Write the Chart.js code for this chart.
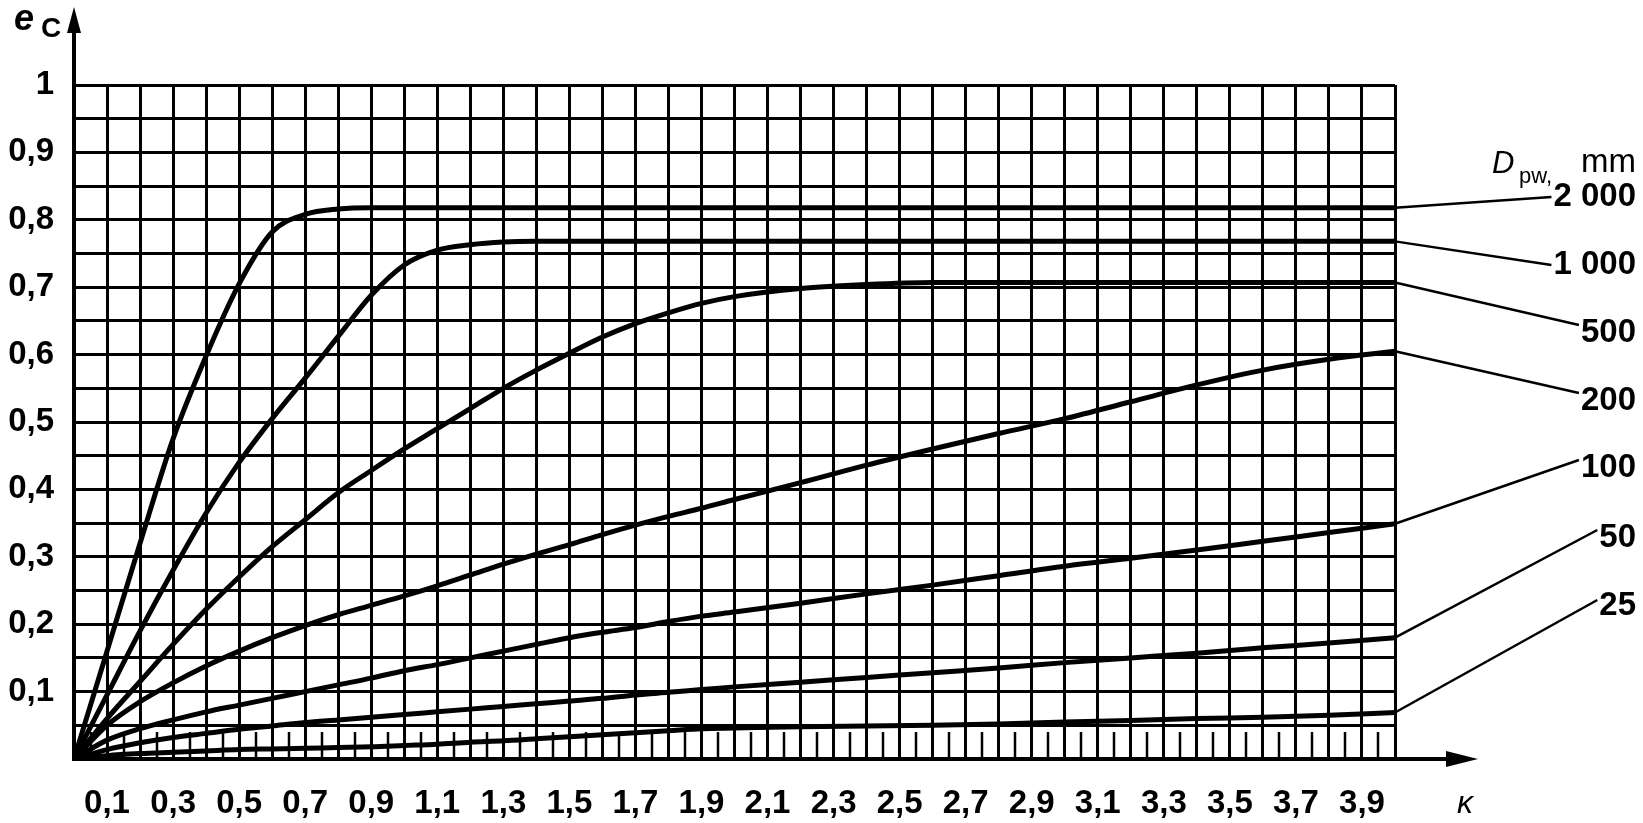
<!DOCTYPE html>
<html>
<head>
<meta charset="utf-8">
<title>e_C versus kappa</title>
<script src="https://cdn.jsdelivr.net/npm/chart.js@4.4.1/dist/chart.umd.min.js"></script>
<style>
  html, body { margin: 0; padding: 0; background: #fff; }
  #wrap { width: 1643px; height: 823px; }
</style>
</head>
<body>
<div id="wrap"><canvas id="ecChart" width="1643" height="823"></canvas></div>
<script>
// viscosity ratio (x axis)
const kappa = [0, 0.1, 0.2, 0.3, 0.4, 0.5, 0.6, 0.7, 0.8, 0.9, 1.0, 1.1, 1.2, 1.3, 1.4, 1.5, 1.6, 1.7, 1.8, 1.9, 2.0,
               2.2, 2.4, 2.6, 2.8, 3.0, 3.2, 3.4, 3.6, 3.8, 4.0];

// contamination factor e_C, one list per pitch diameter D_pw
const e2000 = [0, 0.16, 0.32, 0.475, 0.598, 0.705, 0.782, 0.808, 0.816, 0.818, 0.818, 0.818, 0.818, 0.818, 0.818, 0.818,
               0.818, 0.818, 0.818, 0.818, 0.818, 0.818, 0.818, 0.818, 0.818, 0.818, 0.818, 0.818, 0.818, 0.818, 0.818];
const e1000 = [0, 0.095, 0.19, 0.28, 0.365, 0.44, 0.505, 0.565, 0.627, 0.688, 0.733, 0.755, 0.763, 0.767, 0.768, 0.768,
               0.768, 0.768, 0.768, 0.768, 0.768, 0.768, 0.768, 0.768, 0.768, 0.768, 0.768, 0.768, 0.768, 0.768, 0.768];
const e500 = [0, 0.06, 0.115, 0.17, 0.222, 0.27, 0.315, 0.355, 0.395, 0.428, 0.46, 0.49, 0.52, 0.55, 0.577, 0.602,
              0.626, 0.646, 0.662, 0.676, 0.686, 0.698, 0.704, 0.707, 0.707, 0.707, 0.707, 0.707, 0.707, 0.707, 0.707];
const e200 = [0, 0.05, 0.085, 0.113, 0.138, 0.16, 0.18, 0.198, 0.214, 0.228, 0.242, 0.257, 0.273, 0.289, 0.304, 0.318,
              0.333, 0.347, 0.36, 0.372, 0.385, 0.41, 0.436, 0.46, 0.483, 0.505, 0.53, 0.555, 0.577, 0.593, 0.605];
const e100 = [0, 0.028, 0.045, 0.058, 0.07, 0.08, 0.09, 0.1, 0.11, 0.12, 0.131, 0.14, 0.15, 0.16, 0.17, 0.18,
              0.188, 0.195, 0.204, 0.212, 0.218, 0.231, 0.245, 0.258, 0.272, 0.286, 0.298, 0.31, 0.323, 0.336, 0.349];
const e50 = [0, 0.014, 0.024, 0.032, 0.038, 0.044, 0.049, 0.054, 0.058, 0.062, 0.066, 0.07, 0.074, 0.078, 0.082, 0.086,
             0.09, 0.095, 0.099, 0.103, 0.107, 0.114, 0.121, 0.128, 0.135, 0.143, 0.15, 0.157, 0.165, 0.172, 0.18];
const e25 = [0, 0.005, 0.008, 0.01, 0.012, 0.014, 0.015, 0.016, 0.017, 0.018, 0.02, 0.022, 0.025, 0.027, 0.03, 0.033,
             0.036, 0.039, 0.042, 0.045, 0.046, 0.048, 0.049, 0.05, 0.052, 0.055, 0.057, 0.06, 0.062, 0.065, 0.069];

const seriesNames = ['2 000', '1 000', '500', '200', '100', '50', '25'];
const seriesValues = [e2000, e1000, e500, e200, e100, e50, e25];

// tick labels
const xTickLabels = ['0,1', '0,3', '0,5', '0,7', '0,9', '1,1', '1,3', '1,5', '1,7', '1,9',
                     '2,1', '2,3', '2,5', '2,7', '2,9', '3,1', '3,3', '3,5', '3,7', '3,9'];
const yTickLabels = ['0,1', '0,2', '0,3', '0,4', '0,5', '0,6', '0,7', '0,8', '0,9', '1'];

const FONT = '"Liberation Sans", Arial, sans-serif';

// label centre line and how far above it the leader line ends (page pixels)
const labelSpots = [
    { ty: 197, dy: 0 },
    { ty: 265, dy: 0 },
    { ty: 333, dy: -8 },
    { ty: 401, dy: -8 },
    { ty: 468, dy: -8 },
    { ty: 538, dy: -8 },
    { ty: 606, dy: -6 }
];
const labelRight = 1636;

const overlayPlugin = {
    id: 'overlay',
    beforeDatasetsDraw(chart) {
        const { ctx, scales: { x, y } } = chart;
        // short extra ticks in the lowest row of the grid
        ctx.save();
        ctx.strokeStyle = '#000';
        ctx.lineWidth = 2.5;
        const yBottom = y.getPixelForValue(0);
        const yTop = y.getPixelForValue(0.04);
        for (let i = 0; i < 40; i++) {
            const px = Math.round(x.getPixelForValue(i / 10 + 0.05));
            ctx.beginPath();
            ctx.moveTo(px, yBottom);
            ctx.lineTo(px, yTop);
            ctx.stroke();
        }
        ctx.restore();
    },
    afterDraw(chart) {
        const { ctx, chartArea, scales: { x, y } } = chart;
        const ax = x.getPixelForValue(0);
        const ay = y.getPixelForValue(0);
        ctx.save();
        ctx.strokeStyle = '#000';
        ctx.fillStyle = '#000';

        // axis arrows
        ctx.lineWidth = 4;
        ctx.beginPath();
        ctx.moveTo(ax, chartArea.top);
        ctx.lineTo(ax, 20);
        ctx.moveTo(chartArea.right, ay);
        ctx.lineTo(1460, ay);
        ctx.stroke();
        ctx.beginPath();
        ctx.moveTo(ax, 7);
        ctx.lineTo(ax - 7, 33);
        ctx.lineTo(ax + 7, 33);
        ctx.closePath();
        ctx.fill();
        ctx.beginPath();
        ctx.moveTo(1478, ay);
        ctx.lineTo(1446, ay - 8);
        ctx.lineTo(1446, ay + 8);
        ctx.closePath();
        ctx.fill();

        // axis titles
        ctx.textBaseline = 'alphabetic';
        ctx.textAlign = 'left';
        ctx.font = 'italic bold 36px ' + FONT;
        ctx.fillText('e', 14, 30);
        ctx.font = 'bold 28px ' + FONT;
        ctx.fillText('C', 41, 37);
        ctx.font = 'italic 32px ' + FONT;
        ctx.textAlign = 'center';
        ctx.fillText('\u03BA', 1465, 813);

        // D_pw, mm heading
        ctx.textAlign = 'left';
        ctx.font = 'italic 31px ' + FONT;
        ctx.fillText('D', 1492, 173);
        ctx.font = '22px ' + FONT;
        ctx.fillText('pw,', 1519, 183);
        ctx.font = '33px ' + FONT;
        ctx.textAlign = 'right';
        ctx.fillText('mm', labelRight, 172);

        // leader lines and series labels
        ctx.lineWidth = 2.5;
        ctx.font = 'bold 33px ' + FONT;
        ctx.textBaseline = 'middle';
        ctx.textAlign = 'right';
        const lastX = x.getPixelForValue(kappa[kappa.length - 1]);
        seriesValues.forEach((vals, i) => {
            const spot = labelSpots[i];
            const textLeft = labelRight - ctx.measureText(seriesNames[i]).width;
            const py = y.getPixelForValue(vals[vals.length - 1]);
            ctx.beginPath();
            ctx.moveTo(lastX, py);
            ctx.lineTo(textLeft - 2, spot.ty + spot.dy);
            ctx.stroke();
            ctx.fillText(seriesNames[i], labelRight, spot.ty);
        });
        ctx.restore();
    }
};

const ctx = document.getElementById('ecChart').getContext('2d');
new Chart(ctx, {
    type: 'line',
    data: {
        datasets: seriesValues.map((vals, i) => ({
            label: seriesNames[i],
            data: kappa.map((k, j) => ({ x: k, y: vals[j] })),
            borderColor: '#000',
            borderWidth: 5,
            pointRadius: 0,
            fill: false,
            cubicInterpolationMode: 'monotone'
        }))
    },
    options: {
        responsive: false,
        animation: false,
        events: [],
        layout: { padding: { top: 85, right: 248, left: 0, bottom: 0 } },
        plugins: {
            legend: { display: false },
            tooltip: { enabled: false }
        },
        scales: {
            x: {
                type: 'linear',
                min: 0,
                max: 4,
                ticks: {
                    stepSize: 0.1,
                    autoSkip: false,
                    maxRotation: 0,
                    padding: 25,
                    color: '#000',
                    font: { family: FONT, size: 33, weight: 'bold' },
                    callback: (v) => {
                        const t = Math.round(v * 10);
                        return t % 2 === 1 ? xTickLabels[(t - 1) / 2] : '';
                    }
                },
                grid: { color: '#000', lineWidth: 3, drawTicks: false },
                border: { color: '#000', width: 4 },
                afterFit: (scale) => { scale.height = 64; }
            },
            y: {
                min: 0,
                max: 1,
                ticks: {
                    stepSize: 0.05,
                    autoSkip: false,
                    padding: 20,
                    color: '#000',
                    font: { family: FONT, size: 33, weight: 'bold' },
                    callback: (v) => {
                        const t = Math.round(v * 100);
                        return (t > 0 && t % 10 === 0) ? yTickLabels[t / 10 - 1] : '';
                    }
                },
                grid: { color: '#000', lineWidth: 3, drawTicks: false },
                border: { color: '#000', width: 4 },
                afterFit: (scale) => { scale.width = 74; }
            }
        }
    },
    plugins: [overlayPlugin]
});
</script>
</body>
</html>
